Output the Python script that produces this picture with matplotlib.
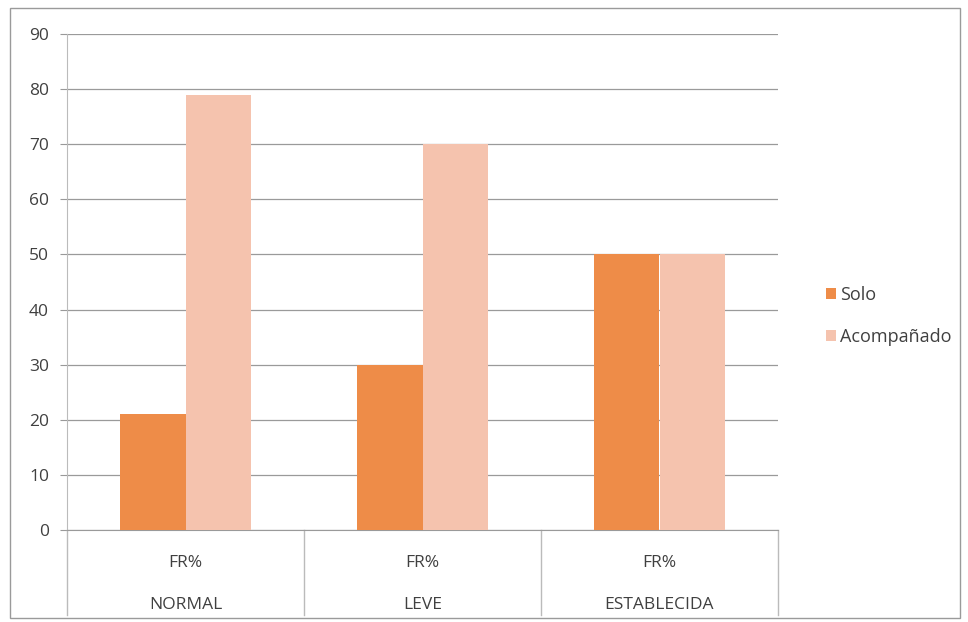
import numpy as np
import matplotlib.pyplot as plt
from matplotlib.patches import Rectangle

plt.rcParams['font.family'] = ['Open Sans', 'DejaVu Sans']

categories = ['NORMAL', 'LEVE', 'ESTABLECIDA']
sub_label = 'FR%'
solo = [21, 30, 50]
acompanado = [79, 70, 50]
series_names = ['Solo', 'Acompañado']
yticks = list(range(0, 100, 10))

c_solo = '#EE8C48'
c_acomp = '#F5C3AE'

fig = plt.figure(figsize=(9.68, 6.22), dpi=100)
fig.patches.append(Rectangle((10 / 968, 4 / 622), 950 / 968, 610 / 622,
                             transform=fig.transFigure, fill=False,
                             edgecolor='#9a9a9a', linewidth=1.0))

ax = fig.add_axes([67 / 968, 1 - 530 / 622, 711 / 968, 496 / 622])
x = np.arange(len(categories))
w = 0.277
ax.bar(x - w / 2, solo, w, color=c_solo, label=series_names[0], zorder=3)
ax.bar(x + w / 2, acompanado, w, color=c_acomp, label=series_names[1], zorder=3)

ax.set_xlim(-0.5, 2.5)
ax.set_ylim(0, 90)
ax.set_yticks(yticks)
ax.set_yticklabels([str(t) for t in yticks], fontsize=12.5, color='#404040')
ax.tick_params(axis='y', length=5, color='#999999', pad=8)
ax.set_xticks([])
ax.grid(axis='y', color='#9a9a9a', linewidth=0.9, zorder=0)
for s in ['top', 'right']:
    ax.spines[s].set_visible(False)
ax.spines['left'].set_color('#bbbbbb')
ax.spines['bottom'].set_color('#9a9a9a')

# category separators and two-level labels
tr = ax.get_xaxis_transform()
for b in np.arange(-0.5, 3.0, 1.0):
    ax.plot([b, b], [0, -0.172], transform=tr, color='#bbbbbb',
            linewidth=1.0, clip_on=False)
for i, cat in enumerate(categories):
    ax.text(i, -0.066, sub_label, transform=tr, ha='center', va='center',
            fontsize=12.5, color='#404040')
    ax.text(i, -0.151, cat, transform=tr, ha='center', va='center',
            fontsize=12.5, color='#404040')

fig.legend(loc='center left', bbox_to_anchor=(810 / 968, 1 - 316 / 622),
           frameon=False, fontsize=13, handlelength=0.55, handleheight=0.55,
           handletextpad=0.2, labelspacing=1.3, labelcolor='#404040')

fig.savefig('out.png', dpi=100)
